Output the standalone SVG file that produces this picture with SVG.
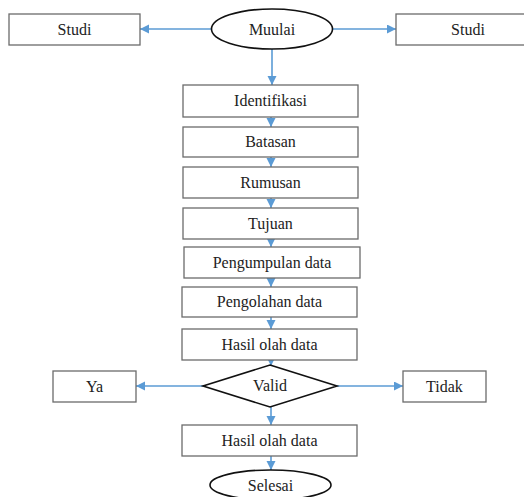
<svg xmlns="http://www.w3.org/2000/svg" width="524" height="497" viewBox="0 0 524 497">
<style>
.box{fill:#fff;stroke:#6b6b6b;stroke-width:1.3}
.term{fill:#fff;stroke:#111;stroke-width:1.6}
.con{fill:none;stroke:#5b9bd5;stroke-width:1.6;marker-end:url(#ah)}
</style>
<defs>
<marker id="ah" markerUnits="userSpaceOnUse" markerWidth="10" markerHeight="10" refX="9" refY="4.5" orient="auto">
<path d="M0,0 L9,4.5 L0,9 z" fill="#5b9bd5"/>
</marker>
</defs>
<rect width="524" height="497" fill="#fff"/>
<g id="connectors">
<line class="con" x1="211" y1="29" x2="140" y2="29"/>
<line class="con" x1="332" y1="29" x2="396" y2="29"/>
<line class="con" x1="272" y1="49" x2="272" y2="85"/>
<line class="con" x1="271" y1="117" x2="271" y2="127"/>
<line class="con" x1="271" y1="157" x2="271" y2="167"/>
<line class="con" x1="271" y1="198" x2="271" y2="208"/>
<line class="con" x1="271" y1="239" x2="271" y2="247"/>
<line class="con" x1="271" y1="278" x2="271" y2="287"/>
<line class="con" x1="271" y1="317" x2="271" y2="329"/>
<line class="con" x1="271" y1="360" x2="271" y2="366"/>
<line class="con" x1="203" y1="386" x2="136" y2="386"/>
<line class="con" x1="337" y1="386" x2="403" y2="386"/>
<line class="con" x1="271" y1="407" x2="271" y2="425"/>
<line class="con" x1="271" y1="456" x2="271" y2="470"/>
</g>
<g font-family="Liberation Serif, serif" font-size="16" fill="#222" text-anchor="middle">
<g id="studi-left"><rect class="box" x="9" y="14" width="131" height="31"/><text x="74.5" y="35">Studi</text></g>
<g id="muulai"><ellipse class="term" cx="272" cy="29" rx="60.5" ry="20"/><text x="272" y="35">Muulai</text></g>
<g id="studi-right"><rect class="box" x="396" y="14" width="134" height="31"/><text x="468" y="35">Studi</text></g>
<g id="identifikasi"><rect class="box" x="183" y="85" width="175" height="32"/><text x="270.5" y="106">Identifikasi</text></g>
<g id="batasan"><rect class="box" x="183" y="127" width="175" height="30"/><text x="270.5" y="147">Batasan</text></g>
<g id="rumusan"><rect class="box" x="183" y="167" width="175" height="31"/><text x="270.5" y="188">Rumusan</text></g>
<g id="tujuan"><rect class="box" x="183" y="208" width="175" height="31"/><text x="270.5" y="229">Tujuan</text></g>
<g id="pengumpulan"><rect class="box" x="184" y="247" width="176" height="31"/><text x="272" y="268">Pengumpulan data</text></g>
<g id="pengolahan"><rect class="box" x="182" y="287" width="175" height="30"/><text x="269.5" y="307">Pengolahan data</text></g>
<g id="hasil1"><rect class="box" x="182" y="329" width="175" height="31"/><text x="269.5" y="350">Hasil olah data</text></g>
<g id="valid"><polygon class="term" points="270,365 337,386 270,407 203,386"/><text x="270" y="391">Valid</text></g>
<g id="ya"><rect class="box" x="53" y="371" width="83" height="31"/><text x="94.5" y="392">Ya</text></g>
<g id="tidak"><rect class="box" x="403" y="371" width="83" height="31"/><text x="444.5" y="392">Tidak</text></g>
<g id="hasil2"><rect class="box" x="182" y="425" width="175" height="31"/><text x="269.5" y="446">Hasil olah data</text></g>
<g id="selesai"><ellipse class="term" cx="270.5" cy="485" rx="60.5" ry="15"/><text x="270.5" y="491">Selesai</text></g>
</g>
</svg>
